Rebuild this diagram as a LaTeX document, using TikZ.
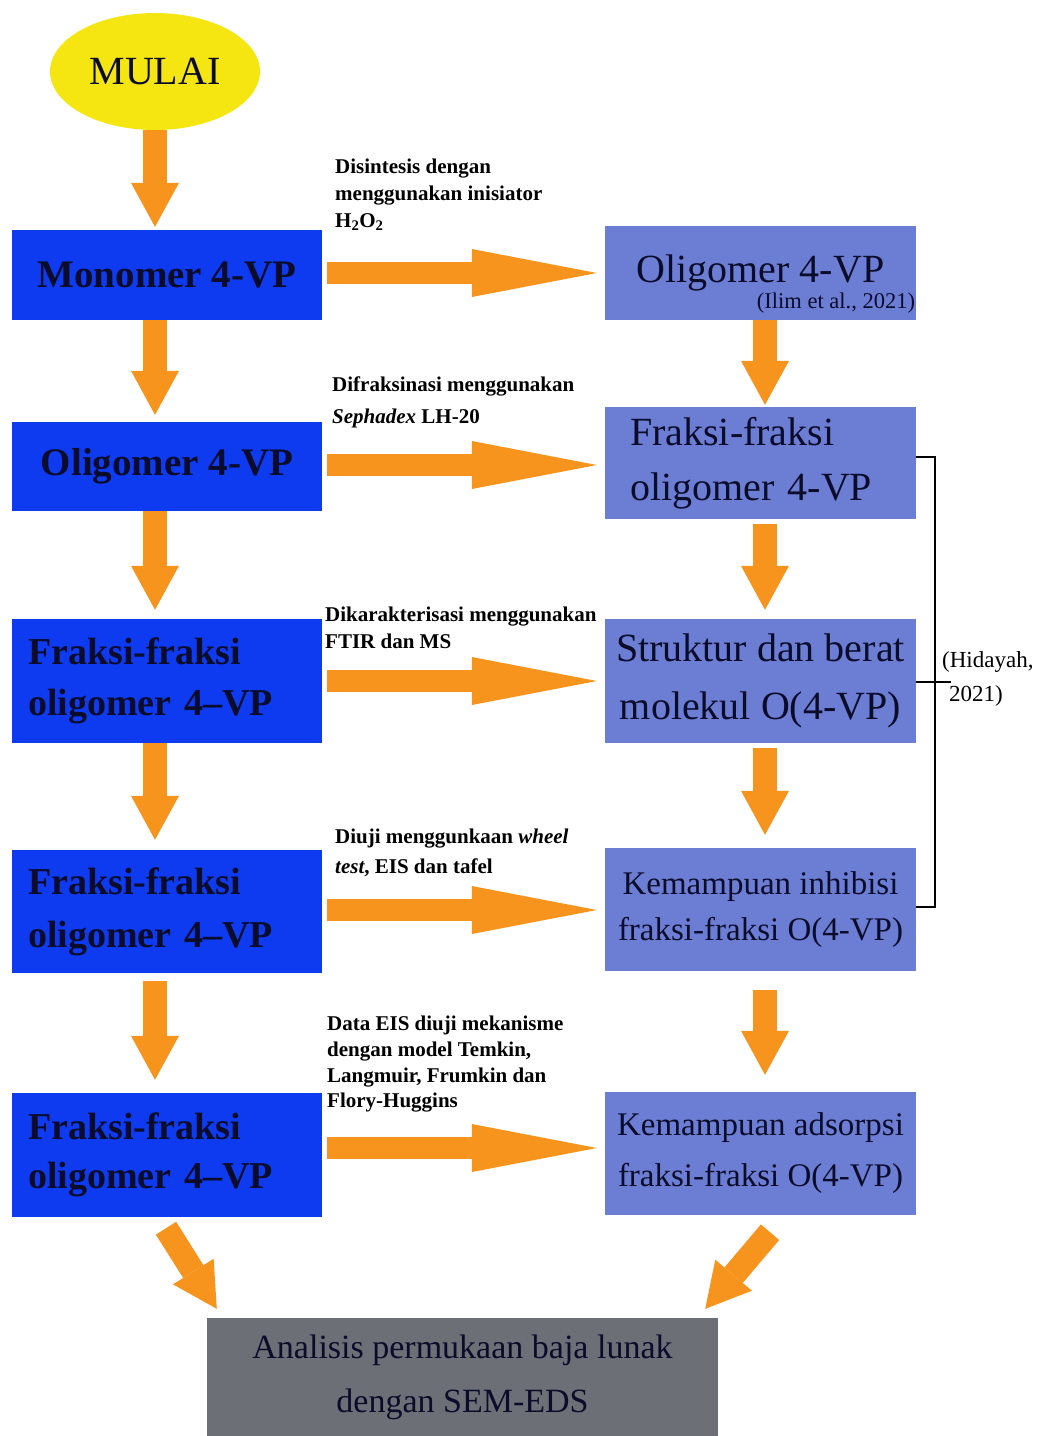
\documentclass[tikz,border=0pt]{standalone}
\usepackage{fontspec}
\setmainfont{Liberation Serif}
\usetikzlibrary{arrows.meta,calc,shapes.geometric}
\definecolor{lblue}{RGB}{14,58,240}
\definecolor{rblue}{RGB}{108,125,212}
\definecolor{ylw}{RGB}{245,230,18}
\definecolor{orng}{RGB}{247,148,29}
\definecolor{gry}{RGB}{108,111,118}
\definecolor{txt}{RGB}{10,12,42}
\begin{document}
\begin{tikzpicture}[x=1pt,y=-1pt,
  fs/.style 2 args={font=\fontsize{#1}{#2}\selectfont},
  bfs/.style 2 args={font=\bfseries\fontsize{#1}{#2}\selectfont},
  lbox/.style={fill=lblue, minimum width=310pt, inner sep=0pt, text=txt},
  rbox/.style={fill=rblue, minimum width=311pt, inner sep=0pt, text=txt},
  varrow/.style={draw=orng, line width=24pt, -{Triangle[width=48pt,length=44pt,line width=0pt]}},
  harrow/.style={draw=orng, line width=22pt, -{Triangle[width=48pt,length=125pt,line width=0pt]}},
  lbl/.style={anchor=north west, inner sep=0pt, align=left, text=black, font=\bfseries\fontsize{21}{#1}\selectfont},
  lbl/.default=27,
  brk/.style={draw=black, line width=1.6pt},
]
\useasboundingbox (0,0) rectangle (1043,1436);

% start
\node[ellipse, fill=ylw, minimum width=210pt, minimum height=117pt, inner sep=0pt, fs={40}{48}, text=txt] (mulai) at (155,71.5) {MULAI};

% left column
\node[lbox, minimum height=90pt, bfs={39}{48}] (L1) at (167,275) {Monomer 4-VP};
\node[lbox, minimum height=89pt, bfs={39}{48}] (L2) at (167,466.5) {Oligomer 4-VP};
\node[lbox, minimum height=124pt, text width=278pt, align=left, bfs={38}{51}] (L3) at (167,681) {Fraksi-fraksi\\oligomer 4–VP};
\node[lbox, minimum height=123pt, text width=278pt, align=left, bfs={38}{53}] (L4) at (167,911.5) {Fraksi-fraksi\\oligomer 4–VP};
\node[lbox, minimum height=124pt, text width=278pt, align=left, bfs={38}{49}] (L5) at (167,1155) {Fraksi-fraksi\\oligomer 4–VP};

% right column
\node[rbox, minimum height=94pt, fs={40}{48}] (R1) at (760.5,273) {Oligomer 4-VP};
\node[anchor=south east, inner sep=0pt, fs={22.5}{26}, text=txt] (cit1) at ($(R1.south east)+(-1,-7)$) {(Ilim et al., 2021)};
\node[rbox, minimum height=112pt, text width=261pt, align=left, fs={40}{55}] (R2) at (760.5,463) {Fraksi-fraksi\\oligomer 4-VP};
\node[rbox, minimum height=124pt, align=center, fs={40}{58}] (R3) at (760.5,681) {Struktur dan berat\\molekul O(4-VP)};
\node[rbox, minimum height=123pt, align=center, fs={33}{46}] (R4) at (760.5,909.5) {Kemampuan inhibisi\\fraksi-fraksi O(4-VP)};
\node[rbox, minimum height=123pt, align=center, fs={33}{51}] (R5) at (760.5,1153.5) {Kemampuan adsorpsi\\fraksi-fraksi O(4-VP)};

% bottom
\node[fill=gry, minimum width=511pt, minimum height=118pt, inner sep=0pt, align=center, fs={34}{54}, text=txt] (B) at (462.5,1377) {Analisis permukaan baja lunak\\dengan SEM-EDS};

% vertical arrows left
\draw[varrow] (mulai.south) -- ($(mulai.south |- L1.north)+(0,-3)$);
\draw[varrow] ($(L1.south)+(-12,0)$) -- ($(L2.north)+(-12,-7)$);
\draw[varrow] ($(L2.south)+(-12,0)$) -- ($(L3.north)+(-12,-9)$);
\draw[varrow] ($(L3.south)+(-12,0)$) -- ($(L4.north)+(-12,-10)$);
\draw[varrow] ($(L4.south)+(-12,8)$) -- ($(L5.north)+(-12,-13)$);

% vertical arrows right
\draw[varrow] ($(R1.south)+(4.5,0)$) -- ($(R2.north)+(4.5,-2)$);
\draw[varrow] ($(R2.south)+(4.5,5)$) -- ($(R3.north)+(4.5,-9)$);
\draw[varrow] ($(R3.south)+(4.5,5)$) -- ($(R4.north)+(4.5,-13)$);
\draw[varrow] ($(R4.south)+(4.5,19)$) -- ($(R5.north)+(4.5,-17)$);

% horizontal arrows
\draw[harrow] ($(L1.east)+(5,-2)$) -- ($(L1.east -| R1.west)+(-8,-2)$);
\draw[harrow] ($(L2.east)+(5,-1.5)$) -- ($(L2.east -| R2.west)+(-8,-1.5)$);
\draw[harrow] ($(L3.east)+(5,0)$) -- ($(L3.east -| R3.west)+(-8,0)$);
\draw[harrow] ($(L4.east)+(5,-1.5)$) -- ($(L4.east -| R4.west)+(-8,-1.5)$);
\draw[harrow] ($(L5.east)+(5,-7)$) -- ($(L5.east -| R5.west)+(-8,-7)$);

% diagonal arrows
\draw[varrow] ($(L5.south)+(-1,11)$) -- ($(B.north west)+(10,-9)$);
\draw[varrow] ($(R5.south)+(9.5,17)$) -- ($(B.north east)+(-13,-9)$);

% labels
\node[lbl] (t1) at (335,159) {Disintesis dengan\\menggunakan inisiator\\H\textsubscript{2}O\textsubscript{2}};
\node[lbl=32] (t2) at (332,377) {Difraksinasi menggunakan\\\textit{Sephadex} LH-20};
\node[lbl] (t3) at (325,607) {Dikarakterisasi menggunakan\\FTIR dan MS};
\node[lbl=30] (t4) at (335,829) {Diuji menggunkaan \textit{wheel}\\\textit{test}, EIS dan tafel};
\node[lbl=25.7] (t5) at (327,1016) {Data EIS diuji mekanisme\\dengan model Temkin,\\Langmuir, Frumkin dan\\Flory-Huggins};

% bracket
\coordinate (bt) at (935,457);
\coordinate (bb) at (935,907);
\coordinate (bm) at (935,682);
\draw[brk] (R2.east |- bt) -- (bt) -- (bb) -- (R4.east |- bb);
\draw[brk] (R3.east |- bm) -- ($(bm)+(16,0)$);
\node[anchor=west, inner sep=0pt, align=left, fs={23}{34}, text=black] (hid) at (942,679) {(Hidayah,\\\hspace*{7pt}2021)};
\end{tikzpicture}
\end{document}
